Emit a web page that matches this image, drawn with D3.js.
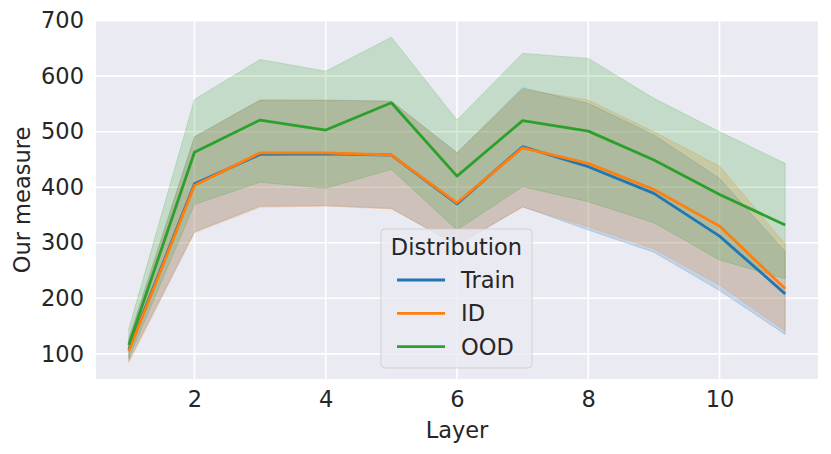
<!DOCTYPE html>
<html>
<head>
<meta charset="utf-8">
<script src="https://cdn.jsdelivr.net/npm/d3@7"></script>
<style>
  body { margin: 0; background: #fff; }
  svg { font-family: "DejaVu Sans", sans-serif; }
</style>
</head>
<body>
<svg id="chart"></svg>
<script>
// values
const layers = [1, 2, 3, 4, 5, 6, 7, 8, 9, 10, 11];
const seriesNames = ["Train", "ID", "OOD"];
const seriesColors = ["#1f77b4", "#ff7f0e", "#2ca02c"];

const trainMean = [108, 406, 459, 460, 458, 370, 473, 437, 389, 312, 208];
const trainLow  = [88, 320, 366, 367, 362, 295, 365, 323, 283, 214, 135];
const trainHigh = [128, 491, 557, 557, 555, 462, 579, 551, 494, 416, 284];

const idMean = [105, 403, 462, 462, 458, 372, 471, 443, 396, 330, 217];
const idLow  = [84, 318, 364, 366, 361, 297, 364, 329, 289, 224, 141];
const idHigh = [125, 490, 557, 556, 555, 462, 576, 557, 500, 438, 298];

const oodMean = [116, 463, 521, 503, 552, 420, 520, 501, 449, 387, 332];
const oodLow  = [92, 369, 409, 398, 432, 323, 401, 374, 336, 269, 235];
const oodHigh = [145, 558, 630, 609, 670, 521, 641, 632, 560, 500, 443];

const xTicks = [2, 4, 6, 8, 10];
const yTicks = [100, 200, 300, 400, 500, 600, 700];

const series = [
    { name: seriesNames[0], color: seriesColors[0], mean: trainMean, low: trainLow, high: trainHigh },
    { name: seriesNames[1], color: seriesColors[1], mean: idMean, low: idLow, high: idHigh },
    { name: seriesNames[2], color: seriesColors[2], mean: oodMean, low: oodLow, high: oodHigh }
];

const width = 831, height = 454;
const margin = { top: 21, right: 13, bottom: 75, left: 96 };
const innerW = width - margin.left - margin.right;
const innerH = height - margin.top - margin.bottom;
const fontSize = "22.5px";

const svg = d3.select("#chart").attr("width", width).attr("height", height);
const g = svg.append("g").attr("transform", `translate(${margin.left},${margin.top})`);

// matplotlib-style 5% margins
const xScale = d3.scaleLinear().domain([0.5, 11.5]).range([0, innerW]);
const allVals = series.flatMap(s => s.low.concat(s.high));
const yMin = d3.min(allVals), yMax = d3.max(allVals);
const pad = (yMax - yMin) * 0.05;
const yScale = d3.scaleLinear().domain([yMin - pad, yMax + pad]).range([innerH, 0]);

// background + grid
g.append("rect").attr("width", innerW).attr("height", innerH).attr("fill", "#eaeaf2");
g.append("g").selectAll("line").data(xTicks).join("line")
    .attr("x1", d => xScale(d)).attr("x2", d => xScale(d))
    .attr("y1", 0).attr("y2", innerH)
    .attr("stroke", "#fff").attr("stroke-width", 1.6);
g.append("g").selectAll("line").data(yTicks).join("line")
    .attr("x1", 0).attr("x2", innerW)
    .attr("y1", d => yScale(d)).attr("y2", d => yScale(d))
    .attr("stroke", "#fff").attr("stroke-width", 1.6);

// confidence bands
const area = d3.area()
    .x((d, i) => xScale(layers[i]))
    .y0(d => yScale(d[0]))
    .y1(d => yScale(d[1]));

series.forEach(s => {
    const pts = s.low.map((v, i) => [v, s.high[i]]);
    g.append("path")
        .attr("d", area(pts))
        .attr("fill", s.color).attr("fill-opacity", 0.2)
        .attr("stroke", s.color).attr("stroke-opacity", 0.2).attr("stroke-width", 1);
});

// mean lines
const line = d3.line().x((d, i) => xScale(layers[i])).y(d => yScale(d));
series.forEach(s => {
    g.append("path")
        .attr("d", line(s.mean))
        .attr("fill", "none")
        .attr("stroke", s.color)
        .attr("stroke-width", 2.8)
        .attr("stroke-linejoin", "round");
});

// axes
const xAxis = d3.axisBottom(xScale).tickValues(xTicks).tickSize(0).tickPadding(12);
const yAxis = d3.axisLeft(yScale).tickValues(yTicks).tickSize(0).tickPadding(12);

const gx = g.append("g").attr("transform", `translate(0,${innerH})`).call(xAxis);
const gy = g.append("g").call(yAxis);
[gx, gy].forEach(ax => {
    ax.select(".domain").remove();
    ax.selectAll("text")
        .attr("fill", "#262626")
        .style("font-size", fontSize)
        .style("font-family", "'DejaVu Sans', sans-serif");
});

svg.append("text")
    .attr("x", margin.left + xScale(6)).attr("y", 438)
    .attr("text-anchor", "middle")
    .attr("fill", "#262626").style("font-size", fontSize)
    .text("Layer");

svg.append("text")
    .attr("transform", `translate(30,${margin.top + innerH / 2}) rotate(-90)`)
    .attr("text-anchor", "middle")
    .attr("fill", "#262626").style("font-size", fontSize)
    .text("Our measure");

// legend
const leg = svg.append("g").attr("transform", "translate(381,229)");
leg.append("rect")
    .attr("width", 151).attr("height", 139)
    .attr("rx", 4).attr("ry", 4)
    .attr("fill", "#eaeaf2").attr("fill-opacity", 0.8)
    .attr("stroke", "#cccccc").attr("stroke-opacity", 0.8).attr("stroke-width", 1);
leg.append("text")
    .attr("x", 75.5).attr("y", 26)
    .attr("text-anchor", "middle")
    .attr("fill", "#262626").style("font-size", fontSize)
    .text("Distribution");
series.forEach((s, i) => {
    const yy = 51 + i * 33.3;
    leg.append("line")
        .attr("x1", 16).attr("x2", 64).attr("y1", yy).attr("y2", yy)
        .attr("stroke", s.color).attr("stroke-width", 2.8);
    leg.append("text")
        .attr("x", 80).attr("y", yy + 8)
        .attr("fill", "#262626").style("font-size", fontSize)
        .text(s.name);
});
</script>
</body>
</html>
